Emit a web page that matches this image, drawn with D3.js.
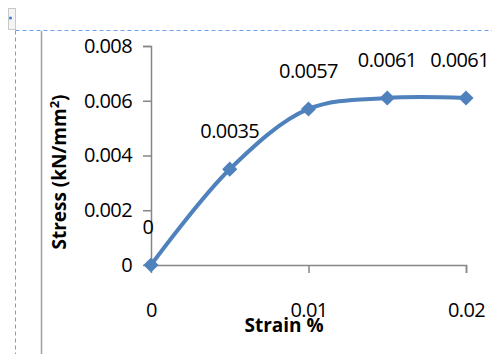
<!DOCTYPE html>
<html>
<head>
<meta charset="utf-8">
<script src="https://cdn.jsdelivr.net/npm/d3@7"></script>
<style>
	body { margin: 0; background: #fff; }
	svg { display: block; font-family: 'Open Sans', sans-serif; }
</style>
</head>
<body>
<div id="chart"></div>
<script>
// chart data
const strain = [0, 0.005, 0.01, 0.015, 0.02];
const stress = [0, 0.0035, 0.0057, 0.0061, 0.0061];
const stressLabels = ['0', '0.0035', '0.0057', '0.0061', '0.0061'];
const yTicks = [0, 0.002, 0.004, 0.006, 0.008];
const xTicks = [0, 0.01, 0.02];

const width = 492;
const height = 354;
const blue = '#4f81bd';
const axisGrey = '#868686';

const svg = d3.select('#chart').append('svg')
	.attr('width', width)
	.attr('height', height);

// page decorations around the chart frame
svg.append('rect')
	.attr('x', 8.5).attr('y', 8.5).attr('width', 7).attr('height', 21)
	.attr('fill', '#f4f4f4').attr('stroke', '#c8c8c8');
svg.append('circle')
	.attr('cx', 10.5).attr('cy', 18).attr('r', 1.5).attr('fill', '#3c78d8');
svg.append('path')
	.attr('d', 'M15.5,30.5H' + width + 'M15.5,30.5V' + height)
	.attr('fill', 'none')
	.attr('stroke', '#6d9eeb')
	.attr('stroke-dasharray', '4,3');
svg.append('line')
	.attr('x1', 41.5).attr('x2', 41.5).attr('y1', 31).attr('y2', height)
	.attr('stroke', '#a0a0a0').attr('stroke-width', 1.5);

const xScale = d3.scaleLinear().domain([0, 0.02]).range([151, 466]);
const yScale = d3.scaleLinear().domain([0, 0.008]).range([265, 46]);

const xAxis = svg.append('g')
	.attr('transform', 'translate(0,' + yScale(0) + ')')
	.call(d3.axisBottom(xScale)
		.tickValues(xTicks)
		.tickFormat(d => d3.format('~g')(d))
		.tickSizeOuter(0)
		.tickSize(8)
		.tickPadding(30));

const yAxis = svg.append('g')
	.attr('transform', 'translate(' + xScale(0) + ',0)')
	.call(d3.axisLeft(yScale)
		.tickValues(yTicks)
		.tickFormat(d => d3.format('~g')(d))
		.tickSizeOuter(0)
		.tickSize(8)
		.tickPadding(11));

[xAxis, yAxis].forEach(g => {
	g.select('.domain').attr('stroke', axisGrey).attr('stroke-width', 1.5);
	g.selectAll('.tick line').attr('stroke', axisGrey).attr('stroke-width', 1.5);
	g.selectAll('.tick text')
		.attr('fill', '#000')
		.style('font-size', '20px')
		.style('letter-spacing', '-0.6px')
		.style('font-family', "'Open Sans', sans-serif");
	// no tick mark at the origin
	g.selectAll('.tick').filter(d => d === 0).select('line').remove();
});

// axis titles
svg.append('text')
	.attr('transform', 'translate(66,172) rotate(-90)')
	.attr('text-anchor', 'middle')
	.style('font-size', '19px')
	.style('font-weight', 'bold')
	.html('Stress (kN/mm<tspan dy="-7" font-size="13px">2</tspan><tspan dy="7">)</tspan>');

svg.append('text')
	.attr('x', 284)
	.attr('y', 332)
	.attr('text-anchor', 'middle')
	.style('font-size', '19px')
	.style('font-weight', 'bold')
	.text('Strain %');

const points = strain.map((s, i) => ({x: s, y: stress[i], label: stressLabels[i]}));

const line = d3.line()
	.x(d => xScale(d.x))
	.y(d => yScale(d.y))
	.curve(d3.curveCatmullRom.alpha(0.5));

svg.append('path')
	.datum(points)
	.attr('d', line)
	.attr('fill', 'none')
	.attr('stroke', blue)
	.attr('stroke-width', 4)
	.attr('stroke-linecap', 'round');

svg.selectAll('.marker')
	.data(points)
	.enter().append('path')
	.attr('class', 'marker')
	.attr('d', d3.symbol(d3.symbolSquare, 115))
	.attr('transform', d => 'translate(' + xScale(d.x) + ',' + yScale(d.y) + ') rotate(45)')
	.attr('fill', blue);

svg.selectAll('.data-label')
	.data(points)
	.enter().append('text')
	.attr('class', 'data-label')
	.attr('x', d => xScale(d.x) - (d.x === 0 ? 3 : 0))
	.attr('y', d => yScale(d.y) - 31)
	.attr('text-anchor', 'middle')
	.style('font-size', '20px')
	.style('letter-spacing', '-0.6px')
	.text(d => d.label)
	.each(function () {
		// keep labels inside the picture, like excel does at the right edge
		const box = this.getBBox();
		const over = box.x + box.width - (width - 3);
		if (over > 0) {
			d3.select(this).attr('x', +d3.select(this).attr('x') - over);
		}
	});
</script>
</body>
</html>
